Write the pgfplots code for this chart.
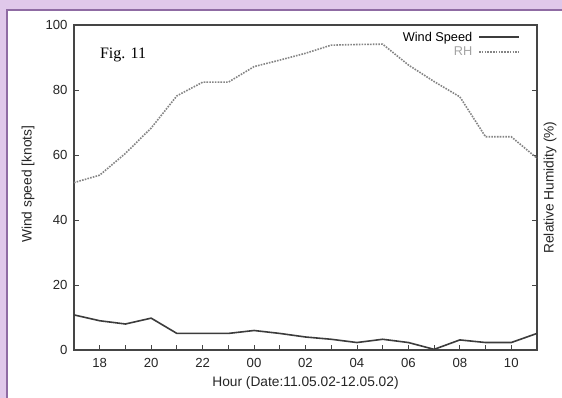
\documentclass[border=0pt]{standalone}
\usepackage{fontspec}
\setmainfont{Liberation Sans}
\newfontfamily\figfont{Liberation Serif}
\usepackage{pgfplots}
\pgfplotsset{compat=1.18}
\definecolor{lav}{HTML}{E0C8EA}
\definecolor{lavline}{HTML}{8F6BA3}
\definecolor{axgray}{HTML}{454545}
\definecolor{windc}{HTML}{3C3C3C}
\definecolor{rhc}{HTML}{858585}
\begin{document}
\begin{tikzpicture}
\fill[lav] (-74bp,-48bp) rectangle (488bp,350bp);
\fill[white] (-67bp,-48bp) rectangle (488bp,340bp);
\draw[lavline, line width=1.2bp] (-67bp,-48bp) -- (-67bp,340bp) -- (488bp,340bp);
\begin{axis}[
  scale only axis, width=463bp, height=325bp,
  xmin=17, xmax=35, ymin=0, ymax=100,
  clip=false,
  axis line style={axgray, line width=1.3bp},
  xtick={18,20,...,34},
  xticklabels={18,20,22,00,02,04,06,08,10},
  minor xtick={17,19,...,35},
  ytick={0,20,...,100},
  tick align=inside,
  xtick pos=bottom,
  ytick pos=both, yticklabel pos=left,
  major tick length=5bp, minor tick length=5bp,
  tick style={axgray, line width=0.8bp},
  /pgf/number format/assume math mode=true,
  every tick label/.append style={font=\fontsize{13.2}{15}\selectfont, text=black!85},
  yticklabel style={xshift=-3bp},
  xticklabel style={yshift=-4.5bp},
  label style={font=\fontsize{13.8}{16}\selectfont, text=black!85},
  xlabel={Hour (Date:11.05.02-12.05.02)},
  xlabel style={at={(axis description cs:0.5,-0.1015)}, anchor=center},
  ylabel={Wind speed [knots]},
  ylabel style={at={(axis description cs:-0.0994,0.51)}, anchor=center},
  legend style={at={(rel axis cs:0.963,0.985)}, anchor=north east, draw=none, fill=none,
    font=\fontsize{12.8}{15}\selectfont, inner sep=0pt, outer sep=0pt, row sep=0bp,
    column sep=4bp},
  legend cell align=right,
  legend plot pos=right,
  legend image code/.code={\draw[#1] (0bp,0bp) -- (40bp,0bp);},
]
\addplot[windc, line width=1.6bp] coordinates {
(17,10.8) (18,9.0) (19,8.0) (20,9.8) (21,5.1) (22,5.1) (23,5.1) (24,6.0) (25,5.1) (26,4.0)
(27,3.3) (28,2.3) (29,3.3) (30,2.3) (31,0.2) (32,3.1) (33,2.3) (34,2.3) (35,5.1)};
\addlegendentry{Wind Speed}
\addplot[rhc, line width=1.6bp, dash pattern=on 1.6bp off 1.2bp] coordinates {
(17,51.5) (18,53.8) (19,60.5) (20,68.3) (21,78.2) (22,82.4) (23,82.4) (24,87.2) (25,89.2) (26,91.3)
(27,93.8) (28,94.0) (29,94.1) (30,87.7) (31,82.6) (32,77.9) (33,65.6) (34,65.6) (35,59.0)};
\addlegendentry{\textcolor{rhc!75}{RH}}
\node[font=\figfont\fontsize{16}{18}\selectfont] at (rel axis cs:0.106,0.908) {Fig. 11};
\node[rotate=90, font=\fontsize{13.8}{16}\selectfont, text=black!85] at (rel axis cs:1.028,0.5) {Relative Humidity (\%)};
\end{axis}
\pgfresetboundingbox
\path[use as bounding box] (-74bp,-48bp) rectangle (488bp,350bp);
\end{tikzpicture}
\end{document}
